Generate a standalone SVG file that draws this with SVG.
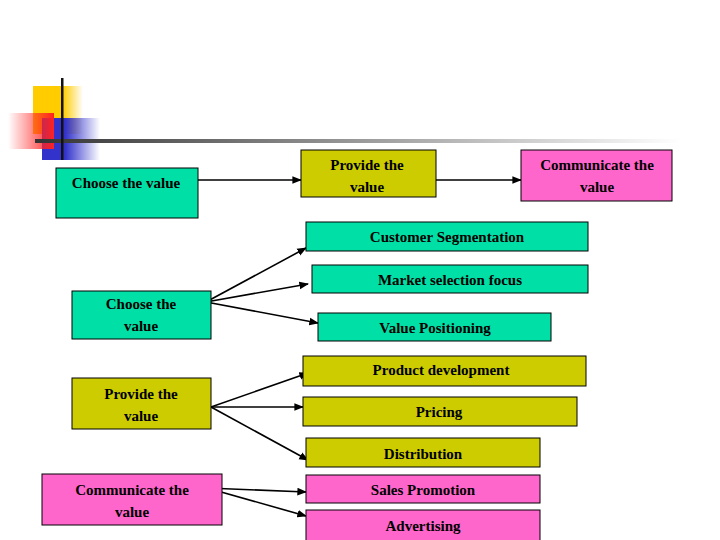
<svg xmlns="http://www.w3.org/2000/svg" width="720" height="540" viewBox="0 0 720 540">
<style>
.b{stroke:#000;stroke-width:1}
.t{fill:#00DFA6}.o{fill:#CCCC00}.p{fill:#FF66CC}
text{font-family:"Liberation Serif",serif;font-weight:bold;font-size:15px;text-anchor:middle;fill:#000}
.c line{stroke:#000;stroke-width:1.6;marker-end:url(#a)}
</style>
<defs>
<marker id="a" viewBox="0 0 10 10" refX="9" refY="5" markerWidth="6" markerHeight="6" orient="auto"><path d="M0,1 L10,5 L0,9 z" fill="#000"/></marker>
<linearGradient id="y" x1="0" x2="1"><stop offset="0.6" stop-color="#FFCC00"/><stop offset="1" stop-color="#FFCC00" stop-opacity="0"/></linearGradient>
<linearGradient id="r" x1="1" x2="0"><stop offset="0" stop-color="#FF2222"/><stop offset="1" stop-color="#FF2222" stop-opacity="0"/></linearGradient>
<linearGradient id="bl" x1="0" x2="1"><stop offset="0.4" stop-color="#3333CC"/><stop offset="1" stop-color="#3333CC" stop-opacity="0"/></linearGradient>
<linearGradient id="h" x1="0" x2="1"><stop offset="0" stop-color="#333"/><stop offset="0.5" stop-color="#999"/><stop offset="1" stop-color="#fff"/></linearGradient>
</defs>
<g id="deco">
<rect x="33" y="86" width="50" height="48" fill="url(#y)"/>
<rect x="42" y="118" width="58" height="42" fill="url(#bl)"/>
<rect x="8" y="113" width="46" height="36" fill="url(#r)"/>
<rect x="35" y="139" width="645" height="4" fill="url(#h)"/>
<rect x="61" y="78" width="2.5" height="82" fill="#111"/>
</g>
<g class="c">
<line x1="198" y1="180" x2="301" y2="180"/>
<line x1="419" y1="180" x2="521" y2="180"/>
<line x1="206" y1="302" x2="306" y2="248"/>
<line x1="206" y1="302" x2="308" y2="284"/>
<line x1="206" y1="302" x2="318" y2="323"/>
<line x1="211" y1="407" x2="308" y2="373"/>
<line x1="211" y1="407" x2="303" y2="407"/>
<line x1="211" y1="407" x2="308" y2="460"/>
<line x1="207" y1="488" x2="306" y2="492"/>
<line x1="207" y1="488" x2="306" y2="516"/>
</g>
<g id="n1"><rect class="b t" x="56" y="168" width="142" height="50"/><text x="126" y="188">Choose the value</text></g>
<g id="n2"><rect class="b o" x="301" y="150" width="135" height="47"/><text x="367" y="170">Provide the</text><text x="367" y="192">value</text></g>
<g id="n3"><rect class="b p" x="521" y="150" width="151" height="51"/><text x="597" y="170">Communicate the</text><text x="597" y="192">value</text></g>
<g id="n4"><rect class="b t" x="306" y="222" width="282" height="29"/><text x="447" y="242">Customer Segmentation</text></g>
<g id="n5"><rect class="b t" x="312" y="265" width="276" height="28"/><text x="450" y="285">Market selection focus</text></g>
<g id="n6"><rect class="b t" x="318" y="313" width="233" height="28"/><text x="435" y="333">Value Positioning</text></g>
<g id="n7"><rect class="b t" x="72" y="291" width="139" height="48"/><text x="141" y="309">Choose the</text><text x="141" y="331">value</text></g>
<g id="n8"><rect class="b o" x="303" y="356" width="283" height="30"/><text x="441" y="375">Product development</text></g>
<g id="n9"><rect class="b o" x="303" y="397" width="274" height="29"/><text x="439" y="417">Pricing</text></g>
<g id="n10"><rect class="b o" x="306" y="438" width="234" height="29"/><text x="423" y="459">Distribution</text></g>
<g id="n11"><rect class="b o" x="72" y="378" width="139" height="51"/><text x="141" y="399">Provide the</text><text x="141" y="421">value</text></g>
<g id="n12"><rect class="b p" x="42" y="474" width="180" height="51"/><text x="132" y="495">Communicate the</text><text x="132" y="517">value</text></g>
<g id="n13"><rect class="b p" x="306" y="475" width="234" height="28"/><text x="423" y="495">Sales Promotion</text></g>
<g id="n14"><rect class="b p" x="306" y="510" width="234" height="32"/><text x="423" y="531">Advertising</text></g>
</svg>
